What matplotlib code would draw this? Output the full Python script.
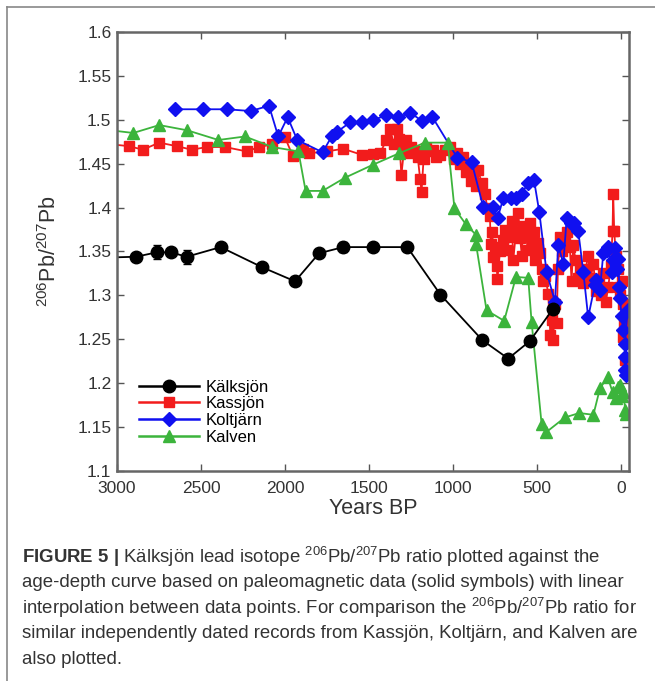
import matplotlib
matplotlib.use("Agg")
import matplotlib.pyplot as plt
from matplotlib.lines import Line2D

plt.rcParams["font.family"] = ["Liberation Sans", "DejaVu Sans"]
plt.rcParams["mathtext.fontset"] = "custom"
plt.rcParams["mathtext.rm"] = "Liberation Sans"
plt.rcParams["mathtext.bf"] = "Liberation Sans:bold"
plt.rcParams["mathtext.it"] = "Liberation Sans:italic"

# Kälksjön (age-depth from paleomagnetic data)
kalk_age = [3080, 2887, 2764, 2678, 2585, 2383, 2135, 1940, 1797, 1653,
            1474, 1272, 1075, 825, 671, 542, 403]
kalk_pb = [1.343, 1.344, 1.349, 1.349, 1.344, 1.355, 1.332, 1.316, 1.348, 1.355,
           1.355, 1.355, 1.301, 1.249, 1.228, 1.248, 1.285]
kalk_err = [0, 0, 0.008, 0, 0.008, 0, 0, 0, 0, 0.006,
            0, 0, 0, 0, 0, 0, 0]

# Kassjön
kass_age = [3080, 2931, 2846, 2748, 2645, 2556, 2462, 2357, 2228, 2153,
            2075, 2000, 1954, 1890, 1855, 1752, 1653, 1541, 1474, 1434,
            1396, 1375, 1350, 1335, 1320, 1307, 1290, 1277, 1260, 1247,
            1225, 1210, 1196, 1187, 1175, 1160, 1146, 1116, 1100, 1077,
            1050, 1018, 995, 978, 960, 939, 920, 909, 890, 879,
            860, 849, 830, 810, 795, 780, 775, 765, 760, 750,
            740, 735, 720, 700, 690, 680, 661, 650, 641, 625,
            611, 600, 590, 582, 565, 555, 542, 532, 520, 512,
            495, 482, 470, 462, 450, 433, 420, 413, 403, 395,
            383, 375, 363, 350, 333, 320, 304, 294, 284, 270,
            255, 244, 224, 210, 195, 180, 164, 150, 130, 118,
            105, 90, 75, 60, 50, 46, 40, 30, 20, 10,
            5, -4, -10, -14, -20, -25, -30, -40, -50]
kass_pb = [1.473, 1.470, 1.466, 1.474, 1.470, 1.466, 1.469, 1.469, 1.464, 1.469,
           1.472, 1.480, 1.459, 1.467, 1.462, 1.464, 1.467, 1.460, 1.461, 1.462,
           1.477, 1.489, 1.472, 1.490, 1.478, 1.437, 1.468, 1.477, 1.462, 1.469,
           1.465, 1.458, 1.433, 1.418, 1.455, 1.468, 1.464, 1.466, 1.458, 1.460,
           1.466, 1.469, 1.455, 1.462, 1.450, 1.458, 1.440, 1.447, 1.430, 1.439,
           1.425, 1.443, 1.428, 1.416, 1.400, 1.390, 1.359, 1.372, 1.344, 1.355,
           1.333, 1.319, 1.350, 1.363, 1.375, 1.352, 1.367, 1.385, 1.340, 1.372,
           1.394, 1.365, 1.345, 1.379, 1.370, 1.352, 1.382, 1.359, 1.372, 1.340,
           1.360, 1.348, 1.330, 1.316, 1.322, 1.302, 1.255, 1.272, 1.249, 1.290,
           1.268, 1.330, 1.367, 1.350, 1.361, 1.372, 1.355, 1.316, 1.357, 1.340,
           1.320, 1.329, 1.314, 1.330, 1.345, 1.320, 1.336, 1.305, 1.318, 1.300,
           1.325, 1.293, 1.310, 1.335, 1.373, 1.415, 1.373, 1.345, 1.330, 1.310,
           1.300, 1.316, 1.290, 1.253, 1.270, 1.226, 1.280, 1.265, 1.276]

# Koltjärn
kolt_age = [2655, 2486, 2347, 2204, 2095, 2040, 1984, 1927, 1776, 1722,
            1692, 1613, 1543, 1474, 1396, 1327, 1253, 1187, 1122, 975,
            889, 820, 764, 734, 700, 657, 625, 591, 552, 518,
            486, 443, 393, 373, 343, 323, 300, 280, 254, 224,
            195, 155, 149, 125, 105, 85, 76, 56, 46, 36,
            26, 16, 10, 6, -4, -14, -40, -24, -24, -24, -30]
kolt_pb = [1.512, 1.512, 1.512, 1.510, 1.516, 1.481, 1.503, 1.477, 1.463, 1.481,
           1.486, 1.497, 1.497, 1.500, 1.505, 1.503, 1.508, 1.499, 1.503, 1.457,
           1.452, 1.401, 1.401, 1.388, 1.411, 1.411, 1.411, 1.416, 1.428, 1.432,
           1.395, 1.327, 1.293, 1.357, 1.336, 1.388, 1.382, 1.382, 1.373, 1.327,
           1.275, 1.312, 1.318, 1.306, 1.348, 1.352, 1.355, 1.327, 1.340, 1.354,
           1.330, 1.342, 1.310, 1.297, 1.276, 1.261, 1.283, 1.245, 1.230, 1.215, 1.209]

# Kalven
kalv_age = [3080, 2903, 2748, 2581, 2396, 2238, 2075, 1920, 1877, 1776,
            1643, 1474, 1319, 1166, 1031, 991, 923, 863, 863, 800,
            695, 625, 552, 532, 472, 446, 333, 248, 164, 125,
            79, 50, 30, 15, 5, -5, -15, -25, -30]
kalv_pb = [1.489, 1.485, 1.494, 1.488, 1.477, 1.481, 1.469, 1.464, 1.419, 1.419,
           1.434, 1.449, 1.462, 1.474, 1.474, 1.399, 1.381, 1.369, 1.359, 1.283,
           1.271, 1.321, 1.320, 1.270, 1.153, 1.144, 1.161, 1.166, 1.164, 1.194,
           1.207, 1.190, 1.183, 1.196, 1.198, 1.185, 1.190, 1.170, 1.165]

x_ticks = [3000, 2500, 2000, 1500, 1000, 500, 0]
y_ticks = [1.1, 1.15, 1.2, 1.25, 1.3, 1.35, 1.4, 1.45, 1.5, 1.55, 1.6]
y_tick_labels = ["1.1", "1.15", "1.2", "1.25", "1.3", "1.35", "1.4",
                 "1.45", "1.5", "1.55", "1.6"]

caption_lines = [
    r"$\mathbf{FIGURE\ 5\ |}$ Kälksjön lead isotope $^{206}$Pb/$^{207}$Pb ratio plotted against the",
    "age-depth curve based on paleomagnetic data (solid symbols) with linear",
    r"interpolation between data points. For comparison the $^{206}$Pb/$^{207}$Pb ratio for",
    "similar independently dated records from Kassjön, Koltjärn, and Kalven are",
    "also plotted.",
]

fig = plt.figure(figsize=(6.55, 6.81), dpi=100)
ax = fig.add_axes([0.1786, 0.3084, 0.7817, 0.6446])

c_red = "#f21c1c"
c_blue = "#1010f0"
c_green = "#3cb43c"

ax.errorbar(kalk_age, kalk_pb, yerr=kalk_err, color="black", marker="o",
            markersize=9, linewidth=1.3, capsize=3, elinewidth=1.2)
ax.plot(kass_age, kass_pb, color=c_red, marker="s", markersize=7,
        linewidth=1.3)
ax.plot(kolt_age, kolt_pb, color=c_blue, marker="D", markersize=7,
        linewidth=1.3)
ax.plot(kalv_age, kalv_pb, color=c_green, marker="^", markersize=8.5,
        linewidth=1.3)

ax.set_xlim(3000, -48)
ax.set_ylim(1.1, 1.6)
ax.set_xticks(x_ticks)
ax.set_xticklabels([str(t) for t in x_ticks])
ax.set_yticks(y_ticks)
ax.set_yticklabels(y_tick_labels)
ax.tick_params(direction="in", top=True, right=True, length=5, width=1,
               labelsize=12.5, colors="#555555", labelcolor="#333333")
ax.tick_params(axis="x", pad=7)
ax.tick_params(axis="y", pad=4)
for s in ax.spines.values():
    s.set_color("#666666")
    s.set_linewidth(1.8)

ax.set_xlabel("Years BP", fontsize=15.5, color="#333333", labelpad=2)
ax.set_ylabel(r"$^{206}$Pb/$^{207}$Pb", fontsize=15.5, color="#333333",
              labelpad=12)

handles = [
    Line2D([], [], color="black", marker="o", markersize=9, linewidth=1.8),
    Line2D([], [], color=c_red, marker="s", markersize=7, linewidth=1.8),
    Line2D([], [], color=c_blue, marker="D", markersize=7, linewidth=1.8),
    Line2D([], [], color=c_green, marker="^", markersize=8.5, linewidth=1.8),
]
ax.legend(handles, ["Kälksjön", "Kassjön", "Koltjärn", "Kalven"],
          loc="lower left", bbox_to_anchor=(0.03, 0.045), frameon=False,
          fontsize=12, handlelength=3.6, handletextpad=0.4,
          labelspacing=0.1, borderaxespad=0)

# outer frame of the figure panel
fig.add_artist(Line2D([7 / 655, 1.0], [1 - 7 / 681, 1 - 7 / 681],
                      color="#888888", linewidth=1.2))
fig.add_artist(Line2D([7 / 655, 7 / 655], [0, 1 - 7 / 681],
                      color="#888888", linewidth=1.2))

for i, line in enumerate(caption_lines):
    fig.text(22 / 655, 1 - (557 + 25.5 * i) / 681, line, fontsize=13.4,
             color="#333333", va="center", ha="left")

fig.savefig("out.png", dpi=100)
